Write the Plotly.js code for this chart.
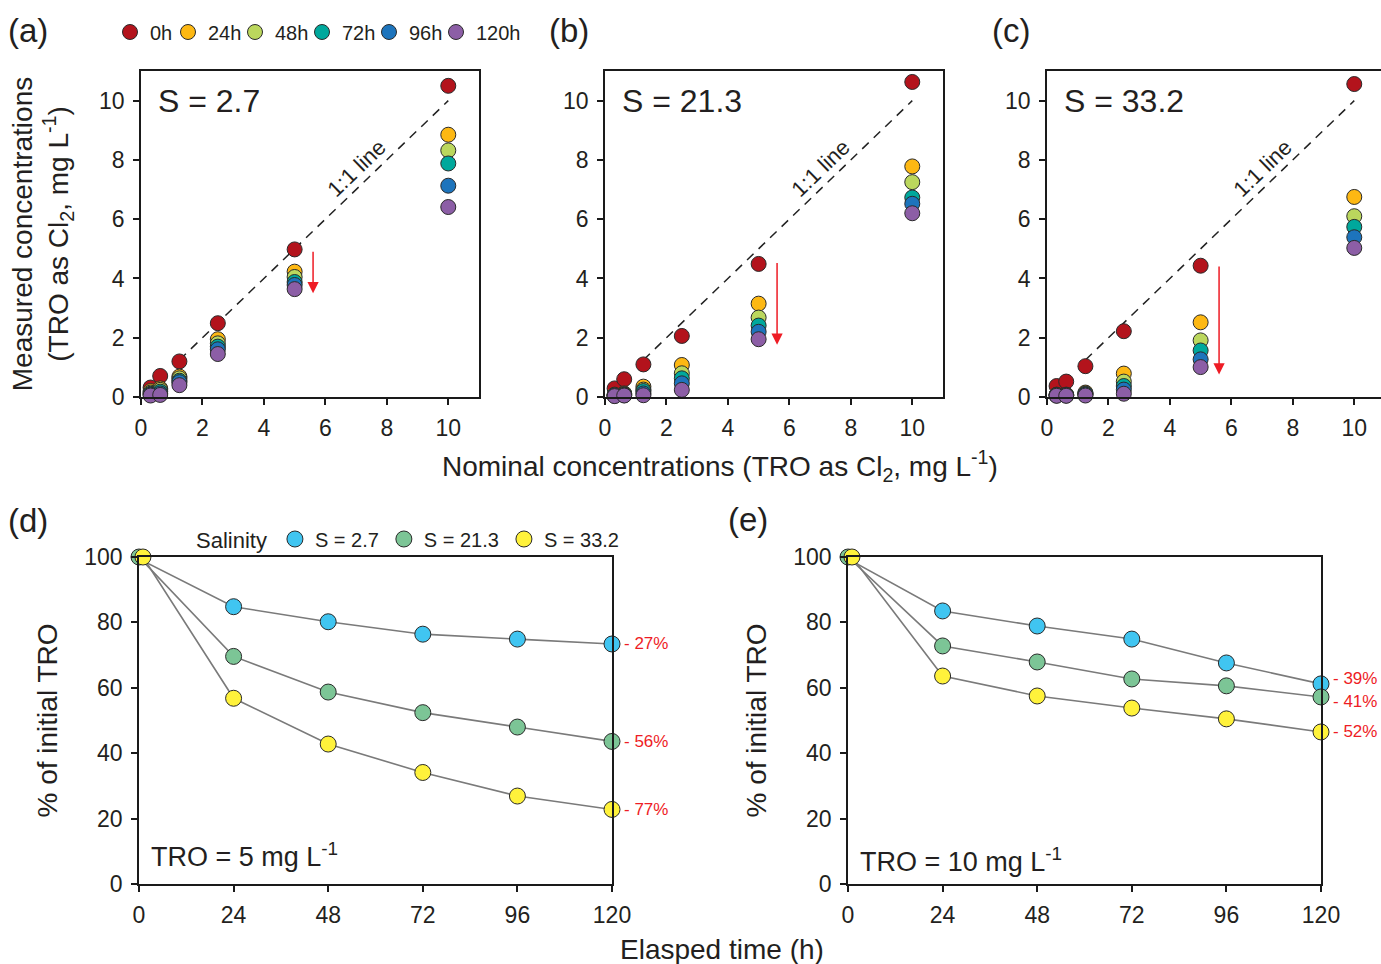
<!DOCTYPE html>
<html><head><meta charset="utf-8">
<script src="https://cdn.plot.ly/plotly-3.0.1.min.js"></script>
<style>html,body{margin:0;padding:0;background:#fff}#chart{width:1381px;height:964px}</style>
</head><body><div id="chart"></div>
<script>
// ---------- data ----------
const nominal = [0.3125, 0.625, 1.25, 2.5, 5, 10];
const hours = ['0h', '24h', '48h', '72h', '96h', '120h'];
// rows: 0h, 24h, 48h, 72h, 96h, 120h ; columns: nominal concentrations
const measuredS2_7 = [
  [0.32, 0.71, 1.20, 2.49, 4.98, 10.50],
  [0.20, 0.29, 0.69, 1.95, 4.23, 8.85],
  [0.15, 0.24, 0.63, 1.81, 4.05, 8.32],
  [0.11, 0.18, 0.55, 1.70, 3.88, 7.88],
  [0.08, 0.12, 0.50, 1.61, 3.78, 7.13],
  [0.05, 0.07, 0.40, 1.45, 3.64, 6.41]
];
const measuredS21_3 = [
  [0.29, 0.60, 1.10, 2.06, 4.49, 10.63],
  [0.08, 0.12, 0.35, 1.08, 3.15, 7.78],
  [0.06, 0.10, 0.25, 0.80, 2.68, 7.25],
  [0.05, 0.08, 0.20, 0.63, 2.41, 6.73],
  [0.04, 0.06, 0.12, 0.46, 2.20, 6.52],
  [0.03, 0.05, 0.06, 0.24, 1.95, 6.20]
];
const measuredS33_2 = [
  [0.37, 0.52, 1.04, 2.22, 4.43, 10.56],
  [0.08, 0.08, 0.15, 0.79, 2.52, 6.75],
  [0.07, 0.07, 0.12, 0.52, 1.91, 6.10],
  [0.06, 0.06, 0.10, 0.37, 1.57, 5.74],
  [0.05, 0.05, 0.08, 0.25, 1.27, 5.39],
  [0.04, 0.04, 0.05, 0.11, 1.01, 5.03]
];
const panelSalinity = ['S = 2.7', 'S = 21.3', 'S = 33.2'];

const elapsed = [0, 24, 48, 72, 96, 120];
const salinityNames = ['S = 2.7', 'S = 21.3', 'S = 33.2'];
const tro5_S2_7  = [100, 84.8, 80.2, 76.4, 74.9, 73.4];
const tro5_S21_3 = [100, 69.6, 58.7, 52.4, 48.0, 43.6];
const tro5_S33_2 = [100, 56.8, 42.8, 34.1, 26.9, 22.8];
const tro10_S2_7  = [100, 83.5, 78.9, 74.9, 67.6, 61.2];
const tro10_S21_3 = [100, 72.8, 67.9, 62.7, 60.6, 57.2];
const tro10_S33_2 = [100, 63.6, 57.5, 53.8, 50.5, 46.5];
const lossLabels5  = ['- 27%', '- 56%', '- 77%'];
const lossLabels10 = ['- 39%', '- 41%', '- 52%'];

// red decline arrows (nominal 5 mg/L group): tail and tip in measured units
const arrowTail = [4.95, 4.57, 4.45];
const arrowTip  = [3.50, 1.76, 0.76];

// ---------- style ----------
const FONT = 'Liberation Sans, Arial, Helvetica, sans-serif';
const TXT = '#231f20';
const timeColors = ['#b3131c', '#fdb813', '#bbd75d', '#00a89c', '#1d74bc', '#8c5ea6'];
const legendWidths = [13, 22, 22, 22, 22, 50];
const salColors = ['#40c5f1', '#7cc596', '#fff23b'];
const startJitter = [-0.9, 0, 1.0];
const W = 1381, H = 964;
const px = v => v / W, py = v => 1 - v / H;

const traces = [];

// top row panels
const topPanels = [
  {vals: measuredS2_7,  xa: 'x',  ya: 'y',  leg: true},
  {vals: measuredS21_3, xa: 'x2', ya: 'y2', leg: false},
  {vals: measuredS33_2, xa: 'x3', ya: 'y3', leg: false}
];
topPanels.forEach(p => {
  traces.push({
    type: 'scatter', mode: 'lines', x: [nominal[2], nominal[5]], y: [nominal[2], nominal[5]],
    xaxis: p.xa, yaxis: p.ya, showlegend: false, hoverinfo: 'skip',
    line: {color: '#222', width: 1.5, dash: '9px,7px'}
  });
  hours.forEach((h, i) => {
    traces.push({
      type: 'scatter', mode: 'markers', x: nominal, y: p.vals[i],
      xaxis: p.xa, yaxis: p.ya, name: h, showlegend: p.leg, legend: 'legend',
      legendwidth: legendWidths[i], cliponaxis: false,
      marker: {size: 15, color: timeColors[i], line: {color: '#2a2a2a', width: 1}}
    });
  });
});

// bottom row panels
const bottomPanels = [
  {series: [tro5_S2_7, tro5_S21_3, tro5_S33_2], xa: 'x4', ya: 'y4', leg: true},
  {series: [tro10_S2_7, tro10_S21_3, tro10_S33_2], xa: 'x5', ya: 'y5', leg: false}
];
bottomPanels.forEach(p => {
  const xs = p.series.map((s, i) => elapsed.map((t, k) => k === 0 ? t + startJitter[i] : t));
  p.series.forEach((s, i) => {
    traces.push({
      type: 'scatter', mode: 'lines', x: xs[i], y: s, xaxis: p.xa, yaxis: p.ya,
      showlegend: false, hoverinfo: 'skip', cliponaxis: false,
      line: {color: '#7a7a7a', width: 1.6}
    });
  });
  p.series.forEach((s, i) => {
    traces.push({
      type: 'scatter', mode: 'markers', x: xs[i], y: s, xaxis: p.xa, yaxis: p.ya,
      name: salinityNames[i], showlegend: p.leg, legend: 'legend2', cliponaxis: false,
      marker: {size: 16, color: salColors[i], line: {color: '#2a2a2a', width: 1}}
    });
  });
});

// ---------- axes ----------
const axBase = {
  showline: true, linecolor: '#1a1a1a', linewidth: 1.5, mirror: true,
  ticks: 'outside', ticklen: 6, tickwidth: 1.5, tickcolor: '#1a1a1a',
  showgrid: false, zeroline: false, fixedrange: true,
  tickfont: {family: FONT, size: 23, color: TXT}, ticklabelstandoff: 4
};
const topY = [1 - 397 / H, 1 - 71 / H];
const botY = [1 - 884 / H, 1 - 557 / H];
const conTicks = [0, 2, 4, 6, 8, 10];
const pctTicks = [0, 20, 40, 60, 80, 100];
const titleFont = {family: FONT, size: 28, color: TXT};

const layout = {
  width: W, height: H, margin: {l: 0, r: 0, t: 0, b: 0},
  paper_bgcolor: '#fff', plot_bgcolor: 'rgba(0,0,0,0)',
  font: {family: FONT, color: TXT},
  showlegend: true,
  xaxis:  Object.assign({}, axBase, {domain: [px(141), px(479)], range: [0, 11], tickvals: conTicks, anchor: 'y'}),
  yaxis:  Object.assign({}, axBase, {domain: topY, range: [0, 11], tickvals: conTicks, anchor: 'x',
           title: {text: 'Measured concentrations<br>(TRO as Cl<sub>2</sub>, mg L<sup>-1</sup>)', font: titleFont, standoff: 22}}),
  xaxis2: Object.assign({}, axBase, {domain: [px(605), px(943)], range: [0, 11], tickvals: conTicks, anchor: 'y2'}),
  yaxis2: Object.assign({}, axBase, {domain: topY, range: [0, 11], tickvals: conTicks, anchor: 'x2'}),
  xaxis3: Object.assign({}, axBase, {domain: [px(1047), 1], range: [0, 10.87], tickvals: conTicks, anchor: 'y3'}),
  yaxis3: Object.assign({}, axBase, {domain: topY, range: [0, 11], tickvals: conTicks, anchor: 'x3', mirror: false}),
  xaxis4: Object.assign({}, axBase, {domain: [px(139), px(612)], range: [0, 120], tickvals: elapsed, anchor: 'y4'}),
  yaxis4: Object.assign({}, axBase, {domain: botY, range: [0, 100], tickvals: pctTicks, anchor: 'x4',
           title: {text: '% of initial TRO', font: titleFont, standoff: 18}}),
  xaxis5: Object.assign({}, axBase, {domain: [px(848), px(1321)], range: [0, 120], tickvals: elapsed, anchor: 'y5'}),
  yaxis5: Object.assign({}, axBase, {domain: botY, range: [0, 100], tickvals: pctTicks, anchor: 'x5',
           title: {text: '% of initial TRO', font: titleFont, standoff: 18}}),
  legend: {
    orientation: 'h', x: px(110), xanchor: 'left', y: py(32), yanchor: 'middle',
    font: {family: FONT, size: 20, color: TXT}, bgcolor: 'rgba(0,0,0,0)', borderwidth: 0,
    entrywidthmode: 'pixels',
    itemclick: false, itemdoubleclick: false
  },
  legend2: {
    orientation: 'h', x: px(194), xanchor: 'left', y: py(539), yanchor: 'middle',
    title: {text: 'Salinity', side: 'left', font: {family: FONT, size: 22, color: TXT}},
    font: {family: FONT, size: 20, color: TXT}, bgcolor: 'rgba(0,0,0,0)', borderwidth: 0,
    itemclick: false, itemdoubleclick: false
  },
  annotations: [],
  hovermode: 'closest'
};

const ann = layout.annotations;
// panel letters
[['(a)', 6, 31], ['(b)', 547, 31], ['(c)', 990, 31], ['(d)', 6, 520], ['(e)', 726, 519]].forEach(a => {
  ann.push({text: a[0], xref: 'paper', yref: 'paper', x: px(a[1]), y: py(a[2]), xanchor: 'left', yanchor: 'middle',
            showarrow: false, font: {family: FONT, size: 33, color: TXT}});
});
// salinity labels, 1:1 labels, arrows in top panels
const topAx = [['x', 'y'], ['x2', 'y2'], ['x3', 'y3']];
topAx.forEach((a, i) => {
  ann.push({text: panelSalinity[i], xref: a[0] + ' domain', yref: a[1] + ' domain', x: 0.045, y: 0.908,
            xanchor: 'left', yanchor: 'middle', showarrow: false, font: {family: FONT, size: 32, color: TXT}});
  ann.push({text: '1:1 line', xref: a[0], yref: a[1], x: 7.0, y: 7.72, textangle: -44,
            showarrow: false, font: {family: FONT, size: 22, color: TXT}});
  ann.push({text: '', xref: a[0], yref: a[1], x: 5.6, y: arrowTip[i], axref: a[0], ayref: a[1], ax: 5.6, ay: arrowTail[i],
            showarrow: true, arrowhead: 2, arrowsize: 1.5, arrowwidth: 1.5, arrowcolor: '#ee1c25', standoff: 0, startstandoff: 0});
});
// bottom panels: TRO labels and loss labels
[['x4', 'y4', 'TRO = 5 mg L<sup>-1</sup>', 855, lossLabels5, [tro5_S2_7, tro5_S21_3, tro5_S33_2], [0, 0, 0]],
 ['x5', 'y5', 'TRO = 10 mg L<sup>-1</sup>', 860, lossLabels10, [tro10_S2_7, tro10_S21_3, tro10_S33_2], [5, -5, 0]]
].forEach(b => {
  ann.push({text: b[2], xref: b[0] + ' domain', yref: 'paper', x: 0.022, y: py(b[3]), xanchor: 'left', yanchor: 'middle',
            showarrow: false, font: {family: FONT, size: 27, color: TXT}});
  b[4].forEach((lab, i) => {
    const s = b[5][i];
    ann.push({text: lab, xref: b[0], yref: b[1], x: elapsed[elapsed.length - 1], y: s[s.length - 1],
              xanchor: 'left', yanchor: 'middle', xshift: 10, yshift: b[6][i], showarrow: false,
              font: {family: FONT, size: 17, color: '#ee1c25'}});
  });
});
// shared x titles
ann.push({text: 'Nominal concentrations (TRO as Cl<sub>2</sub>, mg L<sup>-1</sup>)', xref: 'paper', yref: 'paper',
          x: px(720), y: py(466), xanchor: 'center', yanchor: 'middle', showarrow: false, font: titleFont});
ann.push({text: 'Elasped time (h)', xref: 'paper', yref: 'paper',
          x: px(722), y: py(949), xanchor: 'center', yanchor: 'middle', showarrow: false, font: titleFont});

Plotly.newPlot('chart', traces, layout, {displayModeBar: false, staticPlot: false});
</script>
</body></html>
